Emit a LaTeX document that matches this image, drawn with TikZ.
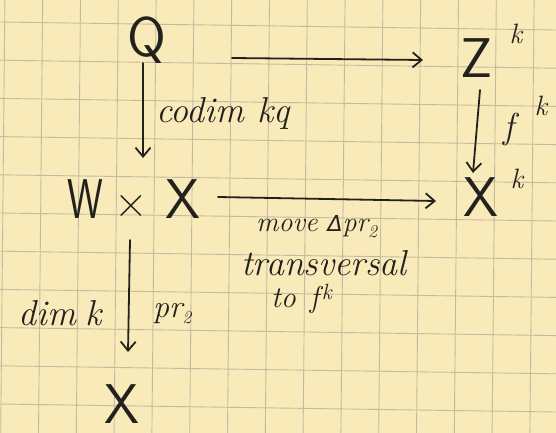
\documentclass[tikz,border=0pt]{standalone}
\usepackage{fontspec}
\newfontfamily\dvs{DejaVu Sans}
\usetikzlibrary{arrows.meta}
\definecolor{paper}{RGB}{249,234,185}
\definecolor{gridc}{RGB}{196,186,162}
\definecolor{ink}{RGB}{35,33,30}
\tikzset{
  gridline/.style={draw=gridc, line width=0.9pt},
  bigletter/.style={anchor=base, inner sep=0pt, text=ink, font=\sffamily\fontsize{56}{56}\selectfont},
  supk/.style={anchor=base, inner sep=0pt, text=ink, font=\itshape\fontsize{28}{28}\selectfont},
  lbl/.style={anchor=base west, inner sep=0pt, text=ink, font=\itshape\fontsize{32}{32}\selectfont},
  arr/.style={draw=ink, line width=1.8pt, line cap=round, -{Straight Barb[length=9pt,width=15pt,line width=1.8pt]}},
}
\begin{document}
\begin{tikzpicture}[x=1pt,y=-1pt]
\useasboundingbox (0,0) rectangle (556,433);
\fill[paper] (0,0) rectangle (556,433);
\begin{scope}
  \clip (0,0) rectangle (556,433);
  \foreach \k in {0,...,14} \draw[gridline] ({4.9+37.8*\k},0) -- ({0.7+37.8*\k},433);
  \foreach \k in {-1,...,11} \draw[gridline] (0,{22+38.2*\k}) -- (556,{30+38.2*\k});
\end{scope}

% objects
\node[bigletter] (Q) at (147,57) {Q};
\node[bigletter] (Zk) at (477,78) {Z};
\node[supk] (Zsup) at (516,44) {k};
\node[bigletter] (W) at (85,218) {\scalebox{0.72}[1]{W}};
\node[bigletter, font=\sffamily\fontsize{46}{46}\selectfont] (times) at (131,217) {×};
\node[bigletter] (WX) at (183,218) {X};
\node[bigletter] (Xk) at (481,216) {X};
\node[supk] (Xsup) at (517,188) {k};
\node[bigletter] (Xb) at (122,423) {X};

% arrows
\draw[arr] ([shift={(85,1)}]Q.base) -- ([shift={(-54,-18)}]Zk.base);
\draw[arr] ([shift={(-4,6)}]Q.base) -- ([shift={(-40,-60)}]WX.base);
\draw[arr] ([shift={(3,12)}]Zk.base) -- ([shift={(-8,-43)}]Xk.base);
\draw[arr] ([shift={(35,-21)}]WX.base) -- ([shift={(-45,-15)}]Xk.base);
\draw[arr] ([shift={(-1,23)}]times.base) -- ([shift={(6,-71)}]Xb.base);

% labels
\node[lbl, font=\itshape\fontsize{36}{36}\selectfont] (codim) at (156,122) {codim kq};
\node[lbl, font=\itshape\fontsize{36}{36}\selectfont] (fsym) at (503,138) {f};
\node[supk] (fsup) at (541,116) {k};
\node[lbl, font=\itshape\fontsize{28}{28}\selectfont] (move) at (256,231) {move {\dvs\fontsize{22}{22}\selectfont Δ}pr\raisebox{-6pt}{\fontsize{18}{18}\selectfont 2}};
\node[lbl, font=\itshape\fontsize{36}{36}\selectfont] (transv) at (241,275) {transversal};
\node[lbl, font=\itshape\fontsize{30}{30}\selectfont] (tof) at (271,307) {to\hspace{14pt}f\hspace{3pt}\raisebox{8pt}{\fontsize{22}{22}\selectfont k}};
\node[lbl, font=\itshape\fontsize{36}{36}\selectfont] (dimk) at (18,325) {dim\hspace{10pt}k};
\node[lbl, font=\itshape\fontsize{32}{32}\selectfont] (pr) at (153,317) {pr\raisebox{-6pt}{\fontsize{18}{18}\selectfont 2}};
\end{tikzpicture}
\end{document}
